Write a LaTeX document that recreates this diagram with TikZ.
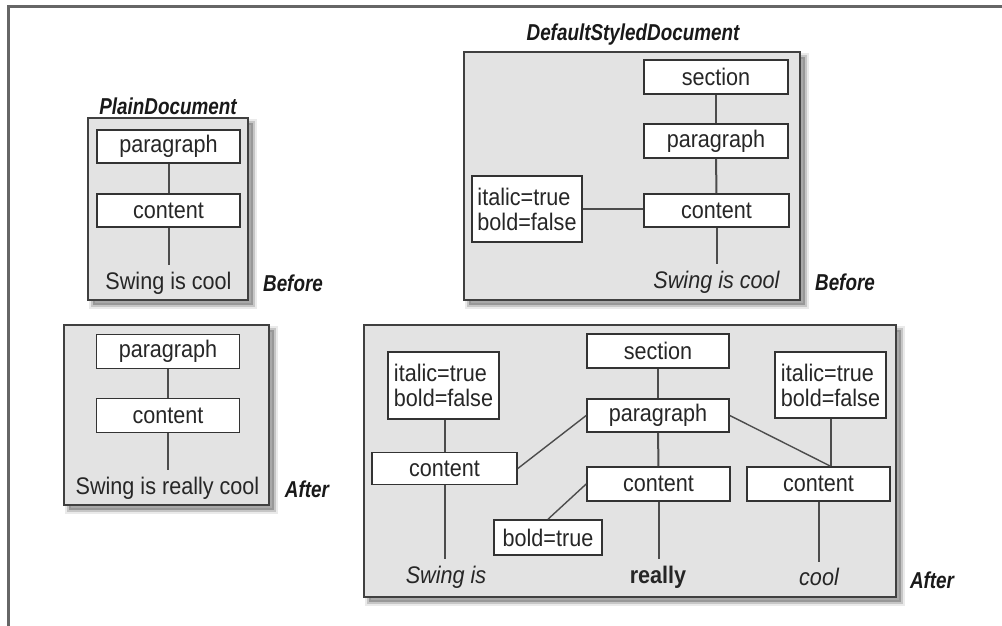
\documentclass[tikz,border=0pt]{standalone}
\usepackage{fontspec}
\setmainfont[FakeStretch=0.9]{Liberation Sans}
\newfontfamily\titlefont[FakeStretch=0.82]{Liberation Sans}
\begin{document}
\begin{tikzpicture}[x=0.5pt,y=-0.5pt,
  sz/.style 2 args={minimum width=#1*0.5pt, minimum height=#2*0.5pt},
  container/.style={draw=black!75, line width=1pt, fill=black!11, inner sep=0,
    preaction={fill=black!55, opacity=0.55, transform canvas={xshift=2.5pt,yshift=-2.5pt}},
    preaction={draw=black!55, line width=2pt, opacity=0.3, transform canvas={xshift=2.5pt,yshift=-2.5pt}},
    preaction={draw=black!55, line width=4pt, opacity=0.15, transform canvas={xshift=2.5pt,yshift=-2.5pt}}},
  wbox/.style={draw=black!80, line width=0.8pt, fill=white, inner sep=0, text=black!85,
    font=\fontsize{12}{12.5}\selectfont},
  multi/.style={wbox, align=left},
  txt/.style={inner xsep=0, inner ysep=3pt, text=black!85, font=\fontsize{12}{12.5}\selectfont},
  ttl/.style={inner sep=0, text=black!90, font=\titlefont\bfseries\itshape\fontsize{11.5}{12}\selectfont},
  conn/.style={draw=black!70, line width=1pt}
]
\useasboundingbox (0,0) rectangle (1002,626);
% outer frame
\draw[black!60, line width=1.5pt] (8,626) -- (8,7) -- (1002,7);

% ---------- PlainDocument, before ----------
\node[container, sz={160}{182}] (A) at (168,209) {};
\node[ttl] (At) at (168,106) {PlainDocument};
\node[wbox, sz={143}{33}] (A1) at (168.5,146.5) {paragraph};
\node[wbox, sz={143}{33}] (A2) at (168.5,210.5) {content};
\node[txt] (A3) at (168.5,283) {Swing is cool};
\node[ttl] (Ab) at (293,283) {Before};
\draw[conn] (A1) -- (A2);
\draw[conn] (A2.south) -- (A2.south |- A3.north);

% ---------- DefaultStyledDocument, before ----------
\node[container, sz={336}{248}] (B) at (632,176) {};
\node[ttl] (Bt) at (633,35) {DefaultStyledDocument};
\node[wbox, sz={144}{34}] (B1) at (716,77) {section};
\node[wbox, sz={144}{34}] (B2) at (716,141) {paragraph};
\node[wbox, sz={145}{33}] (B3) at (716.5,210.5) {content};
\node[multi, sz={110}{66}] (B4) at (527,209) {italic=true\\bold=false};
\node[txt, font=\fontsize{12}{12.5}\selectfont\itshape] (B5) at (716.5,282) {Swing is cool};
\node[ttl] (Bb) at (845,282) {Before};
\draw[conn] (B1) -- (B2);
\draw[conn] (B2) -- (B3);
\draw[conn] (B4.east) -- (B4.east -| B3.west);
\draw[conn] (B3.south) -- (B3.south |- B5.north);

% ---------- PlainDocument, after ----------
\node[container, sz={205}{180}] (C) at (166.5,415) {};
\node[wbox, sz={143}{34}] (C1) at (168,351.5) {paragraph};
\node[wbox, sz={143}{34}] (C2) at (168,415.5) {content};
\node[txt] (C3) at (167.5,488) {Swing is really cool};
\node[ttl] (Ca) at (307,489) {After};
\draw[conn] (C1) -- (C2);
\draw[conn] (C2.south) -- (C2.south |- C3.north);

% ---------- DefaultStyledDocument, after ----------
\node[container, sz={532}{272}] (D) at (630,461) {};
\node[wbox, sz={142}{34}] (D1) at (658,351) {section};
\node[wbox, sz={142}{33}] (D2) at (658,415.5) {paragraph};
\node[wbox, sz={143}{34}] (D3) at (658.5,484) {content};
\node[multi, sz={111}{67}] (D4) at (443.5,385.5) {italic=true\\bold=false};
\node[wbox, sz={145}{32}] (D5) at (444.5,468.5) {content};
\node[wbox, sz={108}{35}] (D6) at (548,537.5) {bold=true};
\node[multi, sz={111}{66}] (D7) at (830.5,385) {italic=true\\bold=false};
\node[wbox, sz={143}{34}] (D8) at (818.5,484) {content};
\node[txt, font=\fontsize{12}{12.5}\selectfont\itshape] (D9) at (446,577) {Swing is};
\node[txt, font=\fontsize{12}{12.5}\selectfont\bfseries] (D10) at (658,577) {really};
\node[txt, font=\fontsize{12}{12.5}\selectfont\itshape] (D11) at (819,577) {cool};
\node[ttl] (Da) at (932,580) {After};
\coordinate (D8top) at (D7.south |- D8.north);
\draw[conn] (D1) -- (D2);
\draw[conn] (D2) -- (D3);
\draw[conn] (D3.south) -- (D3.south |- D10.north);
\draw[conn] (D4.south -| D5.north) -- (D5.north);
\draw[conn] (D5.south) -- (D5.south |- D9.north);
\draw[conn, line width=0.7pt] (D5.east) -- (D2.west);
\draw[conn, line width=0.7pt] (D6.north) -- (D3.west);
\draw[conn, line width=0.7pt] (D2.east) -- (D8top);
\draw[conn] (D7.south) -- (D8top);
\draw[conn] (D8.south) -- (D8.south |- D11.north);
\end{tikzpicture}
\end{document}
